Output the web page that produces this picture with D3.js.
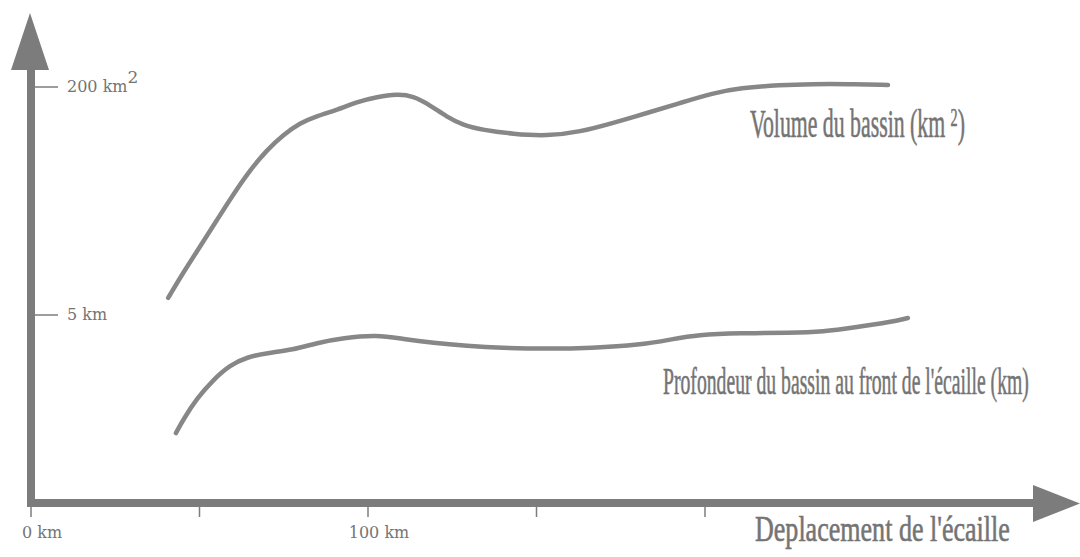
<!DOCTYPE html>
<html><head><meta charset="utf-8">
<script src="https://cdn.jsdelivr.net/npm/d3@7"></script>
<style>body{margin:0;background:#fff}svg{display:block}</style>
</head><body>
<svg id="c" width="1080" height="557"></svg>
<script>
// ---- data ----
const volumeKm = [40.7,45.1,50.1,55.2,59.9,65,70,74.8,79.8,84.9,90.8,96.7,102.7,108.6,113.4,118.4,123.4,128.2,134.1,143,153.1,162.9,172.7,182.8,192.6,202.4,210.4,222.3,232,242.1,254.3];
const volumeVal = [98.6,110.6,123.1,136.1,148.1,160.1,169.7,176.9,182.7,186.1,189,192.8,195.2,196.6,195.7,191.3,185.6,181.7,179.3,177.4,176.4,178.4,182.7,187.5,192.3,197.1,199.5,201,201.4,201.4,201];
const depthKm = [43,45.1,49.3,54,59.1,64.1,70,77.7,84.9,92.6,102.7,110.4,119.3,129.4,139.2,154,165.9,180.7,190.5,197.6,210.4,225.2,235,245.1,254.9,260.2];
const depthVal = [1.86,2.21,2.79,3.27,3.67,3.88,3.99,4.07,4.26,4.39,4.47,4.36,4.26,4.18,4.12,4.10,4.12,4.20,4.36,4.47,4.52,4.52,4.55,4.68,4.81,4.92];
const xTicks = [0,50,100,150,200];
const xTickLabels = ["0 km","","100 km","",""];
const volTick = 200, depthTick = 5;
const seriesLabels = ["Volume du bassin (km","Profondeur du bassin au front de l'écaille (km)"];
const xAxisTitle = "Deplacement de l'écaille";

// ---- scales ----
const x = d3.scaleLinear().domain([0,100]).range([31,368]);
const yVol = d3.scaleLinear().domain([0,200]).range([503,87]);
const yDep = d3.scaleLinear().domain([0,5]).range([503,315]);

const svg = d3.select("#c");
const axisCol = "#7c7c7c", lineCol = "#878787", textCol = "#747474";

// axes
svg.append("line").attr("x1",31).attr("y1",60).attr("x2",31).attr("y2",507)
  .attr("stroke",axisCol).attr("stroke-width",8);
svg.append("line").attr("x1",27).attr("y1",503).attr("x2",1040).attr("y2",503)
  .attr("stroke",axisCol).attr("stroke-width",8);
svg.append("path").attr("d","M30,13 L49,70 L11,70 Z").attr("fill",axisCol);
svg.append("path").attr("d","M1080,503.5 L1033,485 L1033,522 Z").attr("fill",axisCol);

// x ticks
const xt = svg.append("g");
xTicks.forEach((t,i)=>{
  xt.append("line").attr("x1",x(t)).attr("x2",x(t)).attr("y1",507).attr("y2",517)
    .attr("stroke",axisCol).attr("stroke-width",1.5);
  if (xTickLabels[i]) xt.append("text").attr("x",x(t)+11).attr("y",538)
    .attr("text-anchor","middle").attr("font-family","DejaVu Serif").attr("font-size",16)
    .attr("fill",textCol).text(xTickLabels[i]);
});

// y ticks
[[yVol(volTick),"200 km",true],[yDep(depthTick),"5 km",false]].forEach(([yy,lab,sup])=>{
  svg.append("line").attr("x1",35).attr("x2",58).attr("y1",yy).attr("y2",yy)
    .attr("stroke",axisCol).attr("stroke-width",1.5);
  const t = svg.append("text").attr("x",67).attr("y",yy+5).attr("font-family","DejaVu Serif")
    .attr("font-size",16).attr("fill",textCol).text(lab);
  if (sup) t.append("tspan").attr("dy",-9).attr("font-size",17).text("2");
});

// curves
const line = (ys)=> d3.line().x(d=>x(d[0])).y(d=>ys(d[1])).curve(d3.curveBasis);
svg.append("path").datum(d3.zip(volumeKm,volumeVal)).attr("d",line(yVol))
  .attr("fill","none").attr("stroke",lineCol).attr("stroke-width",4.5).attr("stroke-linecap","round");
svg.append("path").datum(d3.zip(depthKm,depthVal)).attr("d",line(yDep))
  .attr("fill","none").attr("stroke",lineCol).attr("stroke-width",4.5).attr("stroke-linecap","round");

// condensed labels: natural text, scaled horizontally to fit the measured width
function cond(xx,yy,fs,width,build){
  const g = svg.append("g");
  const t = g.append("text").attr("x",0).attr("y",0)
    .attr("font-family","Liberation Serif").attr("font-size",fs).attr("fill",textCol)
    .attr("stroke",textCol).attr("stroke-width",0.6);
  build(t);
  const w = t.node().getComputedTextLength();
  g.attr("transform",`translate(${xx},${yy}) scale(${width/w},1)`);
}
cond(750,137,40,215,t=>{
  t.append("tspan").text(seriesLabels[0]+" ");
  t.append("tspan").attr("dy",-11).attr("font-size",26).text("2");
  t.append("tspan").attr("dy",11).text(")");
});
cond(663,394,38,366,t=>t.text(seriesLabels[1]));
cond(755,541,36,255,t=>t.text(xAxisTitle));
</script>
</body></html>
